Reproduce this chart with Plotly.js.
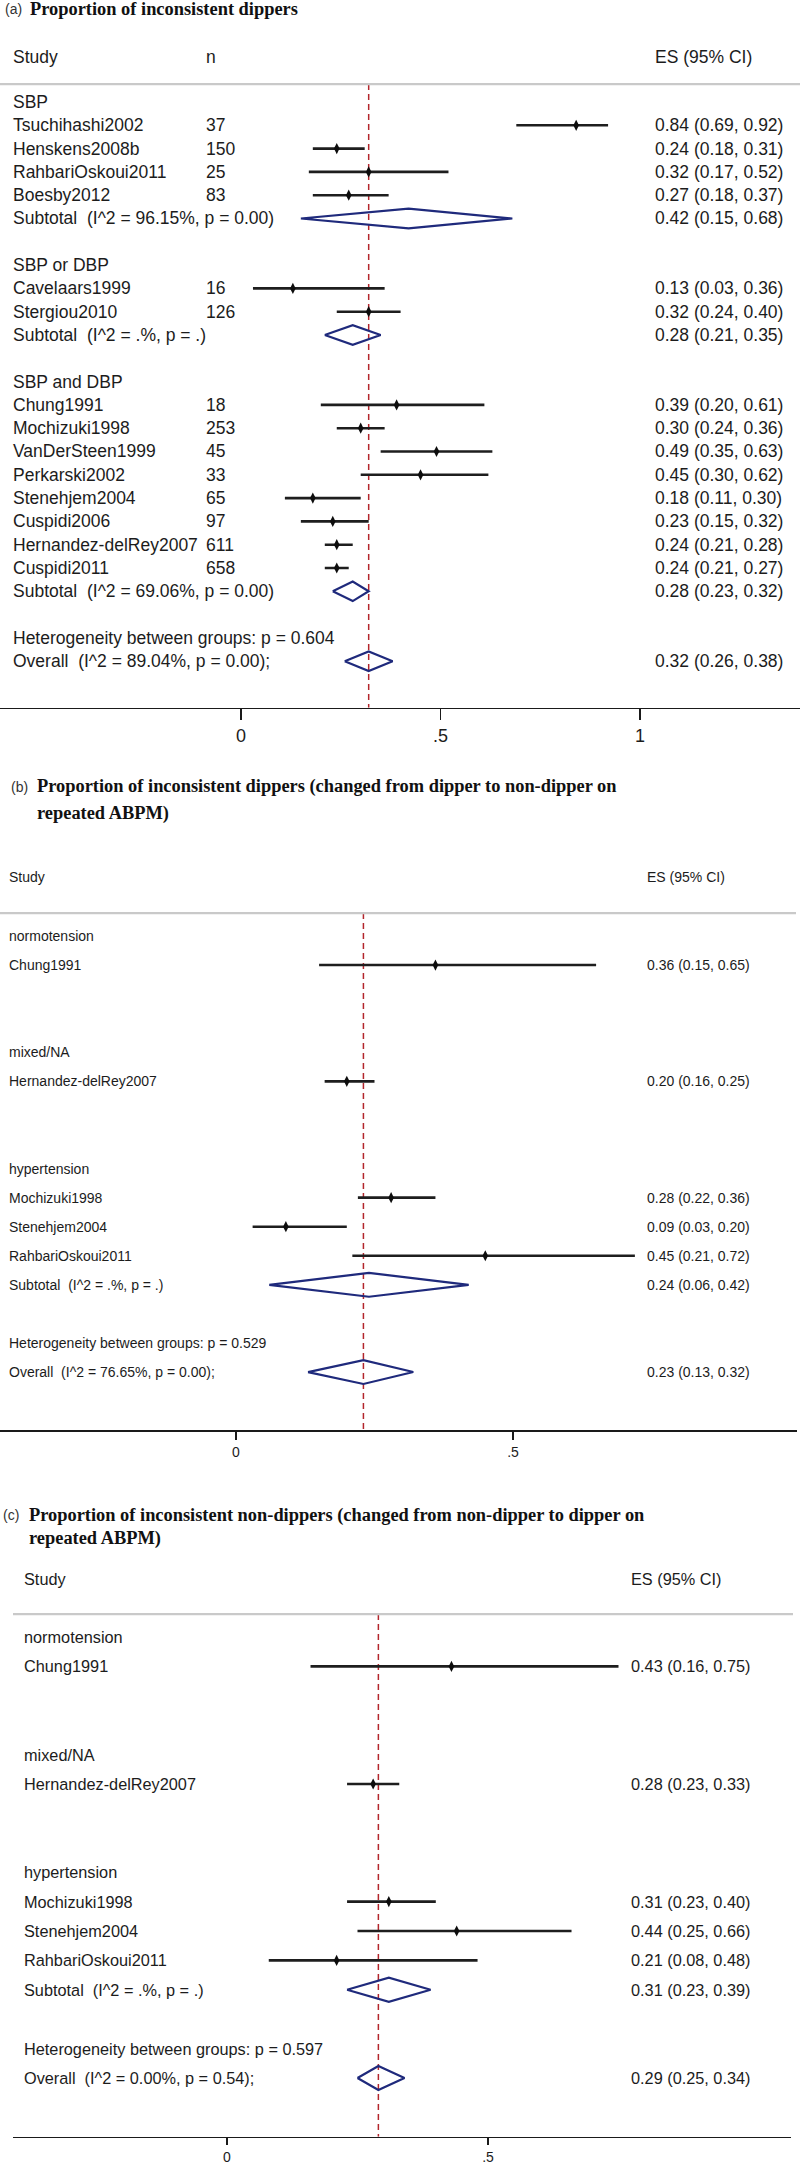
<!DOCTYPE html>
<html>
<head>
<meta charset="utf-8">
<script src="https://cdn.plot.ly/plotly-3.0.1.min.js"></script>
<style>
html, body { margin: 0; padding: 0; background: #ffffff; }
#chart { width: 800px; height: 2166px; }
</style>
</head>
<body>
<div id="chart"></div>
<script>
// ---------------- Panel (a) data ----------------
const titleA = ['Proportion of inconsistent dippers'];
const groupsA = ['SBP', 'SBP or DBP', 'SBP and DBP'];
const studiesA = ['Tsuchihashi2002', 'Henskens2008b', 'RahbariOskoui2011', 'Boesby2012',
  'Cavelaars1999', 'Stergiou2010',
  'Chung1991', 'Mochizuki1998', 'VanDerSteen1999', 'Perkarski2002', 'Stenehjem2004',
  'Cuspidi2006', 'Hernandez-delRey2007', 'Cuspidi2011'];
const groupOfA = [0, 0, 0, 0, 1, 1, 2, 2, 2, 2, 2, 2, 2, 2];
const nA = [37, 150, 25, 83, 16, 126, 18, 253, 45, 33, 65, 97, 611, 658];
const esA = [0.84, 0.24, 0.32, 0.27, 0.13, 0.32, 0.39, 0.30, 0.49, 0.45, 0.18, 0.23, 0.24, 0.24];
const loA = [0.69, 0.18, 0.17, 0.18, 0.03, 0.24, 0.20, 0.24, 0.35, 0.30, 0.11, 0.15, 0.21, 0.21];
const hiA = [0.92, 0.31, 0.52, 0.37, 0.36, 0.40, 0.61, 0.36, 0.63, 0.62, 0.30, 0.32, 0.28, 0.27];
const subStatsA = ['I^2 = 96.15%, p = 0.00', 'I^2 = .%, p = .', 'I^2 = 69.06%, p = 0.00'];
const subEsA = [0.42, 0.28, 0.28];
const subLoA = [0.15, 0.21, 0.23];
const subHiA = [0.68, 0.35, 0.32];
const hetPA = '0.604';
const overallStatsA = 'I^2 = 89.04%, p = 0.00';
const overallA = [0.32, 0.26, 0.38];
const tickValsA = [0, 0.5, 1];
const tickTextA = ['0', '.5', '1'];

// ---------------- Panel (b) data ----------------
const titleB = ['Proportion of inconsistent dippers (changed from dipper to non-dipper on', 'repeated ABPM)'];
const groupsB = ['normotension', 'mixed/NA', 'hypertension'];
const studiesB = ['Chung1991', 'Hernandez-delRey2007', 'Mochizuki1998', 'Stenehjem2004', 'RahbariOskoui2011'];
const groupOfB = [0, 1, 2, 2, 2];
const esB = [0.36, 0.20, 0.28, 0.09, 0.45];
const loB = [0.15, 0.16, 0.22, 0.03, 0.21];
const hiB = [0.65, 0.25, 0.36, 0.20, 0.72];
const subStatsB = [null, null, 'I^2 = .%, p = .'];
const subEsB = [null, null, 0.24];
const subLoB = [null, null, 0.06];
const subHiB = [null, null, 0.42];
const hetPB = '0.529';
const overallStatsB = 'I^2 = 76.65%, p = 0.00';
const overallB = [0.23, 0.13, 0.32];
const tickValsB = [0, 0.5];
const tickTextB = ['0', '.5'];

// ---------------- Panel (c) data ----------------
const titleC = ['Proportion of inconsistent non-dippers (changed from non-dipper to dipper on', 'repeated ABPM)'];
const groupsC = ['normotension', 'mixed/NA', 'hypertension'];
const studiesC = ['Chung1991', 'Hernandez-delRey2007', 'Mochizuki1998', 'Stenehjem2004', 'RahbariOskoui2011'];
const groupOfC = [0, 1, 2, 2, 2];
const esC = [0.43, 0.28, 0.31, 0.44, 0.21];
const loC = [0.16, 0.23, 0.23, 0.25, 0.08];
const hiC = [0.75, 0.33, 0.40, 0.66, 0.48];
const subStatsC = [null, null, 'I^2 = .%, p = .'];
const subEsC = [null, null, 0.31];
const subLoC = [null, null, 0.23];
const subHiC = [null, null, 0.39];
const hetPC = '0.597';
const overallStatsC = 'I^2 = 0.00%, p = 0.54';
const overallC = [0.29, 0.25, 0.34];
const tickValsC = [0, 0.5];
const tickTextC = ['0', '.5'];

// ---------------- styling / placement ----------------
const W = 800, H = 2166;
const SANS = 'Liberation Sans, Arial, sans-serif';
const SERIF = 'Liberation Serif, Times New Roman, serif';
const TEXT_COLOR = '#1c1c1c';
const CI_COLOR = '#1e1e1e';
const DIAMOND_COLOR = '#1f2a7c';
const REF_COLOR = '#b3262c';

const panels = [
  { tag: '(a)', title: titleA, groups: groupsA, studies: studiesA, groupOf: groupOfA, n: nA,
    es: esA, lo: loA, hi: hiA, subStats: subStatsA, subEs: subEsA, subLo: subLoA, subHi: subHiA,
    hetP: hetPA, overallStats: overallStatsA, overall: overallA, tickVals: tickValsA, tickText: tickTextA,
    cfg: { p0: 102, d: 23.3, top: 30, x0px: 241, unitPx: 399, axL: 0, axR: 800, font: 17.5, tickFont: 18,
      ticklen: 11, labelX: 11, nX: 204, esX: 653, headerRow: -1.93, divRow: -0.77, divL: 0, divR: 800,
      tagX: 2.5, titleX: 28, titleY: [9], hh: 0.42, ciW: 2.6, mk: 8 } },
  { tag: '(b)', title: titleB, groups: groupsB, studies: studiesB, groupOf: groupOfB, n: null,
    es: esB, lo: loB, hi: hiB, subStats: subStatsB, subEs: subEsB, subLo: subLoB, subHi: subHiB,
    hetP: hetPB, overallStats: overallStatsB, overall: overallB, tickVals: tickValsB, tickText: tickTextB,
    cfg: { p0: 936, d: 29.07, top: 850, x0px: 236, unitPx: 554, axL: 0, axR: 797, font: 14, tickFont: 14,
      ticklen: 8, labelX: 7, nX: null, esX: 645, headerRow: -2.03, divRow: -0.79, divL: 0, divR: 796,
      tagX: 9, titleX: 35, titleY: [787, 813], hh: 0.41, ciW: 2.6, mk: 8 } },
  { tag: '(c)', title: titleC, groups: groupsC, studies: studiesC, groupOf: groupOfC, n: null,
    es: esC, lo: loC, hi: hiC, subStats: subStatsC, subEs: subEsC, subLo: subLoC, subHi: subHiC,
    hetP: hetPC, overallStats: overallStatsC, overall: overallC, tickVals: tickValsC, tickText: tickTextC,
    cfg: { p0: 1637, d: 29.4, top: 1555, x0px: 227, unitPx: 522, axL: 13, axR: 791, font: 16.3, tickFont: 14,
      ticklen: 7, labelX: 22, nX: null, esX: 629, headerRow: -1.97, divRow: -0.78, divL: 13, divR: 793,
      tagX: 1, titleX: 27, titleY: [1515, 1538], hh: 0.41, ciW: 2.6, mk: 8 } }
];

const NBSP = '\u00a0';
function fmtCI(e, l, h) { return e.toFixed(2) + ' (' + l.toFixed(2) + ', ' + h.toFixed(2) + ')'; }

const traces = [];
const annotations = [];
const shapes = [];
const layout = {
  width: W, height: H,
  margin: { l: 0, r: 0, t: 0, b: 0 },
  paper_bgcolor: '#ffffff', plot_bgcolor: 'rgba(0,0,0,0)',
  showlegend: false, hovermode: false
};

panels.forEach((P, pi) => {
  const c = P.cfg;
  const sfx = pi === 0 ? '' : String(pi + 1);
  const xa = 'x' + sfx, ya = 'y' + sfx;

  // row layout: group label, studies, subtotal row, blank row ... heterogeneity, overall
  let r = 0;
  const groupRow = [], studyRow = [], subRow = [];
  P.groups.forEach((g, gi) => {
    groupRow.push(r); r++;
    P.studies.forEach((s, si) => { if (P.groupOf[si] === gi) { studyRow[si] = r; r++; } });
    subRow.push(r); r++;
    r++;
  });
  const hetRow = r, overallRow = r + 1, axisRow = r + 3;

  // axes
  const botPx = c.p0 + axisRow * c.d;
  const xmin = (c.axL - c.x0px) / c.unitPx, xmax = (c.axR - c.x0px) / c.unitPx;
  layout['xaxis' + sfx] = {
    domain: [c.axL / W, c.axR / W], range: [xmin, xmax], anchor: ya,
    showgrid: false, zeroline: false, showline: true, linecolor: '#1a1a1a', linewidth: 1.6,
    ticks: 'outside', ticklen: c.ticklen, tickwidth: 1.6, tickcolor: '#1a1a1a',
    tickvals: P.tickVals, ticktext: P.tickText,
    tickfont: { family: SANS, size: c.tickFont, color: TEXT_COLOR }, fixedrange: true
  };
  layout['yaxis' + sfx] = {
    domain: [1 - botPx / H, 1 - c.top / H],
    range: [axisRow, (c.top - c.p0) / c.d], anchor: xa,
    showgrid: false, zeroline: false, showline: false, showticklabels: false, ticks: '', fixedrange: true
  };

  // text helper
  const txt = (text, xpx, row, size, extra) => {
    annotations.push(Object.assign({
      text: text, xref: 'paper', yref: ya, x: xpx / W, y: row,
      xanchor: 'left', yanchor: 'middle', showarrow: false,
      font: { family: SANS, size: size, color: TEXT_COLOR }
    }, extra || {}));
  };

  // titles
  annotations.push({ text: P.tag, xref: 'paper', yref: 'paper', x: c.tagX / W, y: 1 - c.titleY[0] / H,
    xanchor: 'left', yanchor: 'middle', showarrow: false,
    font: { family: SANS, size: 14, color: '#333333' } });
  P.title.forEach((line, li) => {
    annotations.push({ text: '<b>' + line + '</b>', xref: 'paper', yref: 'paper', x: c.titleX / W,
      y: 1 - c.titleY[li] / H, xanchor: 'left', yanchor: 'middle', showarrow: false,
      font: { family: SERIF, size: 18.4, color: '#111111' } });
  });

  // header
  txt('Study', c.labelX, c.headerRow, c.font);
  if (c.nX !== null) txt('n', c.nX, c.headerRow, c.font);
  txt('ES (95% CI)', c.esX, c.headerRow, c.font);

  // divider
  shapes.push({ type: 'line', xref: 'paper', yref: ya, x0: c.divL / W, x1: c.divR / W,
    y0: c.divRow, y1: c.divRow, line: { color: '#c9c9c9', width: 2.2 } });

  // reference dashed line at overall estimate
  traces.push({ type: 'scatter', mode: 'lines', xaxis: xa, yaxis: ya, hoverinfo: 'skip',
    x: [P.overall[0], P.overall[0]], y: [c.divRow, axisRow],
    line: { color: REF_COLOR, width: 1.5, dash: '6px,4px' } });

  // group labels
  P.groups.forEach((g, gi) => txt(g, c.labelX, groupRow[gi], c.font));

  // studies
  const cx = [], cy = [], mx = [], my = [];
  P.studies.forEach((s, si) => {
    const row = studyRow[si];
    txt(s, c.labelX, row, c.font);
    if (P.n) txt(String(P.n[si]), c.nX, row, c.font);
    txt(fmtCI(P.es[si], P.lo[si], P.hi[si]), c.esX, row, c.font);
    cx.push(P.lo[si], P.hi[si], null); cy.push(row, row, null);
    mx.push(P.es[si]); my.push(row);
  });
  traces.push({ type: 'scatter', mode: 'lines', xaxis: xa, yaxis: ya, hoverinfo: 'skip',
    x: cx, y: cy, line: { color: CI_COLOR, width: c.ciW } });
  traces.push({ type: 'scatter', mode: 'markers', xaxis: xa, yaxis: ya, hoverinfo: 'skip',
    x: mx, y: my, marker: { symbol: 'diamond-tall', size: c.mk, color: '#0d0d0d' } });

  // diamonds (subtotals + overall)
  const dx = [], dy = [];
  const addDiamond = (e, l, h, row) => {
    dx.push(l, e, h, e, l, null);
    dy.push(row, row - c.hh, row, row + c.hh, row, null);
  };
  P.groups.forEach((g, gi) => {
    if (P.subEs[gi] === null) return;
    const row = subRow[gi];
    txt('Subtotal ' + NBSP + '(' + P.subStats[gi] + ')', c.labelX, row, c.font);
    txt(fmtCI(P.subEs[gi], P.subLo[gi], P.subHi[gi]), c.esX, row, c.font);
    addDiamond(P.subEs[gi], P.subLo[gi], P.subHi[gi], row);
  });
  txt('Heterogeneity between groups: p = ' + P.hetP, c.labelX, hetRow, c.font);
  txt('Overall ' + NBSP + '(' + P.overallStats + ');', c.labelX, overallRow, c.font);
  txt(fmtCI(P.overall[0], P.overall[1], P.overall[2]), c.esX, overallRow, c.font);
  addDiamond(P.overall[0], P.overall[1], P.overall[2], overallRow);
  traces.push({ type: 'scatter', mode: 'lines', xaxis: xa, yaxis: ya, hoverinfo: 'skip',
    x: dx, y: dy, line: { color: DIAMOND_COLOR, width: 2.2 } });
});

layout.annotations = annotations;
layout.shapes = shapes;

Plotly.newPlot('chart', traces, layout, { displayModeBar: false, staticPlot: true });
</script>
</body>
</html>
